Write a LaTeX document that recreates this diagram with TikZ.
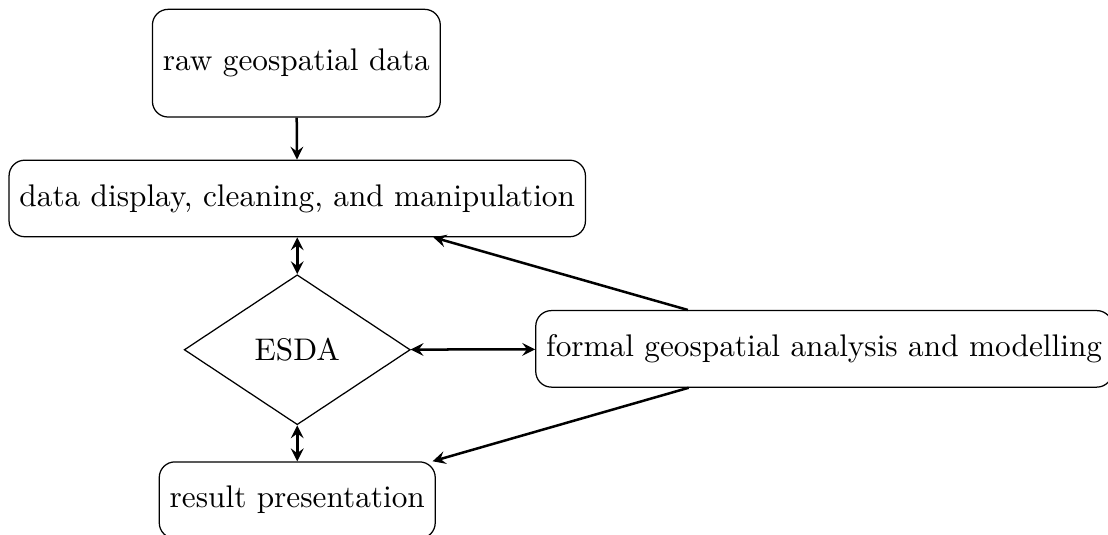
\documentclass[tikz,border=0pt]{standalone}
\usepackage{tikz}
\usetikzlibrary{shapes.geometric, arrows.meta, positioning}

\begin{document}
\begin{tikzpicture}[
    box/.style={draw, rounded corners=5pt, minimum height=0.86cm},
    decision/.style={draw, diamond, minimum width=2.54cm, minimum height=1.66cm},
    link/.style={thick, ->, >=stealth},
    twoway/.style={thick, <->, >=stealth}
  ]
  \useasboundingbox (0,0) rectangle (12.45,-6.01);

  % workflow column
  \node[box, minimum height=1.21cm] (raw) at (3.33,-0.71) {raw geospatial data};
  \node[box] (display) at (3.34,-2.23) {data display, cleaning, and manipulation};
  \node[decision] (esda) at (3.34,-3.93) {ESDA};
  \node[box] (result) at (3.34,-5.62) {result presentation};

  % modelling on the side
  \node[box] (formal) at (9.26,-3.92) {formal geospatial analysis and modelling};

  % connectors
  \draw[link] (raw) -- (display);
  \draw[twoway] (display) -- (esda);
  \draw[twoway] (esda) -- (result);
  \draw[twoway] (esda) -- (formal);
  \draw[link] (formal) -- (display);
  \draw[link] (formal) -- (result);
\end{tikzpicture}
\end{document}
